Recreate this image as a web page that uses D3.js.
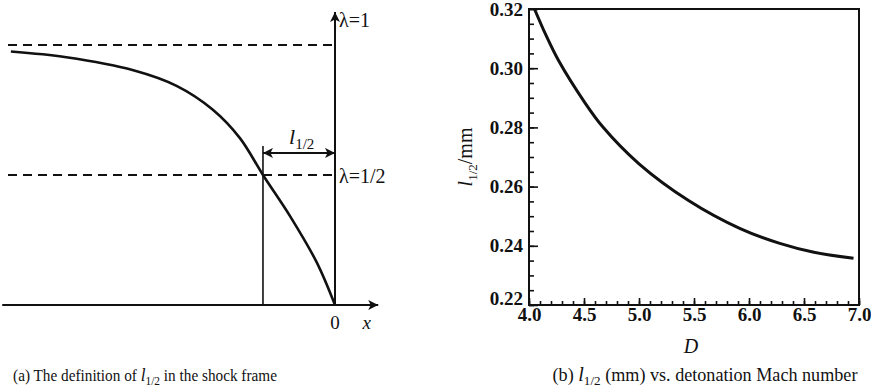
<!DOCTYPE html>
<html>
<head>
<meta charset="utf-8">
<script src="https://cdn.jsdelivr.net/npm/d3@7"></script>
<style>
body { margin: 0; background: #fff; }
svg text { font-family: "Liberation Serif", "Times New Roman", serif; fill: #111; }
</style>
</head>
<body>
<script>
// panel (a): reaction progress profile in the shock frame
var profileX = [-4.5, -3.73, -2.8, -2.2, -1.7, -1.32, -1.0, -0.62, -0.25, 0];
var profileLambda = [0.975, 0.953, 0.903, 0.843, 0.752, 0.642, 0.5, 0.34, 0.162, 0];
var halfX = -1.0; // position where lambda = 1/2

// panel (b): l_1/2 vs detonation Mach number
var machD = [4.05, 4.15, 4.27, 4.5, 4.67, 5.0, 5.45, 5.92, 6.28, 6.59, 6.95];
var halfLength = [0.3200, 0.3115, 0.3025, 0.2888, 0.2802, 0.2677, 0.2553, 0.2458, 0.2408, 0.2378, 0.2358];
var xTicks = [4.0, 4.5, 5.0, 5.5, 6.0, 6.5, 7.0];
var yTicks = [0.22, 0.24, 0.26, 0.28, 0.30, 0.32];

var width = 871, height = 388;

var svg = d3.select("body").append("svg")
    .attr("width", width)
    .attr("height", height);

var defs = svg.append("defs");
defs.append("marker")
    .attr("id", "head")
    .attr("viewBox", "0 0 10 10")
    .attr("refX", 10).attr("refY", 5)
    .attr("markerWidth", 11).attr("markerHeight", 10)
    .attr("markerUnits", "userSpaceOnUse")
    .attr("orient", "auto-start-reverse")
    .append("path")
    .attr("d", "M0,0 L10,5 L0,10 L2.5,5 Z")
    .style("fill", "#111");

// squeeze a caption to the width it has in the scan
function fitWidth(sel, cx, w){
    var bb = sel.node().getBBox();
    var k = w / bb.width;
    sel.attr("transform", "translate(" + cx + ",0) scale(" + k + ",1)");
}

// ---------- panel (a) ----------
var xL = d3.scaleLinear().domain([-4.54, 0]).range([8, 335]);
var yL = d3.scaleLinear().domain([0, 1]).range([305, 45]);

var left = svg.append("g").attr("class", "panel-a");

// dashed reference lines
[1, 0.5].forEach(function(v){
    left.append("line")
        .attr("x1", xL(-4.54)).attr("x2", xL(0))
        .attr("y1", yL(v)).attr("y2", yL(v))
        .style("stroke", "#111")
        .style("stroke-width", 2)
        .style("stroke-dasharray", "9,6");
});

// x axis with arrow
left.append("line")
    .attr("x1", xL(-4.62)).attr("x2", xL(0.6))
    .attr("y1", yL(0)).attr("y2", yL(0))
    .style("stroke", "#111").style("stroke-width", 2)
    .attr("marker-end", "url(#head)");

// lambda axis with arrow
left.append("line")
    .attr("x1", xL(0)).attr("x2", xL(0))
    .attr("y1", yL(0)).attr("y2", yL(1.127))
    .style("stroke", "#111").style("stroke-width", 2)
    .attr("marker-end", "url(#head)");

// vertical marker at half point
left.append("line")
    .attr("x1", xL(halfX)).attr("x2", xL(halfX))
    .attr("y1", yL(0)).attr("y2", yL(0.612))
    .style("stroke", "#111").style("stroke-width", 1.6);

// double arrow for l_1/2
left.append("line")
    .attr("x1", xL(halfX)).attr("x2", xL(0))
    .attr("y1", yL(0.585)).attr("y2", yL(0.585))
    .style("stroke", "#111").style("stroke-width", 2)
    .attr("marker-start", "url(#head)")
    .attr("marker-end", "url(#head)");

var lineL = d3.line()
    .x(function(d, i){ return xL(profileX[i]); })
    .y(function(d){ return yL(d); })
    .curve(d3.curveCatmullRom.alpha(0.5));

left.append("path")
    .datum(profileLambda)
    .attr("d", lineL)
    .style("fill", "none")
    .style("stroke", "#111")
    .style("stroke-width", 2.6);

// labels
var l12 = left.append("text")
    .attr("x", 289).attr("y", yL(0.585) - 9)
    .style("font-size", "22px");
l12.append("tspan").style("font-style", "italic").text("l");
l12.append("tspan").attr("dy", 5).style("font-size", "15px").text("1/2");

left.append("text").attr("x", xL(0) + 4).attr("y", 27)
    .style("font-size", "20px").text("λ=1");
left.append("text").attr("x", xL(0) + 4).attr("y", yL(0.5) + 8)
    .style("font-size", "20px").text("λ=1/2");
left.append("text").attr("x", xL(0)).attr("y", 329)
    .attr("text-anchor", "middle").style("font-size", "19px").text("0");
left.append("text").attr("x", xL(0.44)).attr("y", 329)
    .attr("text-anchor", "middle").style("font-size", "19px")
    .style("font-style", "italic").text("x");

var capA = left.append("text")
    .attr("y", 381)
    .attr("text-anchor", "middle")
    .style("font-size", "16px");
capA.append("tspan").text("(a) The definition of ");
capA.append("tspan").style("font-style", "italic").style("font-size", "18px").text("l");
capA.append("tspan").attr("dy", 4).style("font-size", "12px").text("1/2");
capA.append("tspan").attr("dy", -4).text(" in the shock frame");
fitWidth(capA, 145, 264);

// ---------- panel (b) ----------
var xR = d3.scaleLinear().domain([4, 7]).range([529, 859]);
var yR = d3.scaleLinear().domain([0.22, 0.32]).range([305, 9]);

var right = svg.append("g").attr("class", "panel-b");

var xMinor = d3.range(40, 71).map(function(v){ return v / 10; });
var yMinor = d3.range(220, 321, 5).map(function(v){ return v / 1000; });

right.append("g")
    .attr("transform", "translate(0," + yR(0.22) + ")")
    .call(d3.axisBottom(xR).tickValues(xMinor).tickSize(-4).tickFormat(""))
    .call(function(g){ g.select(".domain").remove(); });

right.append("g")
    .attr("transform", "translate(0," + yR(0.22) + ")")
    .call(d3.axisBottom(xR).tickValues(xTicks).tickSize(-7).tickPadding(2)
        .tickFormat(d3.format(".1f")))
    .call(function(g){
        g.select(".domain").remove();
        g.selectAll("text").style("font-size", "19px").style("font-weight", "bold")
            .style("font-family", "Liberation Serif").style("fill", "#111");
    });

right.append("g")
    .attr("transform", "translate(" + xR(4) + ",0)")
    .call(d3.axisLeft(yR).tickValues(yMinor).tickSize(-5).tickFormat(""))
    .call(function(g){ g.select(".domain").remove(); });

right.append("g")
    .attr("transform", "translate(" + xR(4) + ",0)")
    .call(d3.axisLeft(yR).tickValues(yTicks).tickSize(-9).tickPadding(6)
        .tickFormat(d3.format(".2f")))
    .call(function(g){
        g.select(".domain").remove();
        g.selectAll("text").style("font-size", "19px").style("font-weight", "bold")
            .style("font-family", "Liberation Serif").style("fill", "#111");
        // lowest label sits up against the corner in the scan
        g.selectAll(".tick").filter(function(d){ return d === 0.22; })
            .select("text").attr("dy", "-0.05em");
    });

right.selectAll(".tick line").style("stroke", "#111").style("stroke-width", 1.6);

right.append("rect")
    .attr("x", xR(4)).attr("y", yR(0.32))
    .attr("width", xR(7) - xR(4))
    .attr("height", yR(0.22) - yR(0.32))
    .style("fill", "none")
    .style("stroke", "#111")
    .style("stroke-width", 2);

var lineR = d3.line()
    .x(function(d, i){ return xR(machD[i]); })
    .y(function(d){ return yR(d); })
    .curve(d3.curveCatmullRom.alpha(0.5));

right.append("path")
    .datum(halfLength)
    .attr("d", lineR)
    .style("fill", "none")
    .style("stroke", "#111")
    .style("stroke-width", 3);

right.append("text")
    .attr("x", 691).attr("y", 353)
    .attr("text-anchor", "middle")
    .style("font-size", "20px").style("font-style", "italic")
    .text("D");

var yLab = right.append("text")
    .attr("transform", "translate(472," + yR(0.27) + ") rotate(-90)")
    .attr("text-anchor", "middle")
    .style("font-size", "20px");
yLab.append("tspan").style("font-style", "italic").text("l");
yLab.append("tspan").attr("dy", 5).style("font-size", "13px").text("1/2");
yLab.append("tspan").attr("dy", -5).text("/mm");

var capB = right.append("text")
    .attr("y", 381)
    .attr("text-anchor", "middle")
    .style("font-size", "18px");
capB.append("tspan").text("(b) ");
capB.append("tspan").style("font-style", "italic").style("font-size", "20px").text("l");
capB.append("tspan").attr("dy", 4).style("font-size", "13px").text("1/2");
capB.append("tspan").attr("dy", -4).text(" (mm) vs. detonation Mach number");
fitWidth(capB, 705, 305);
</script>
</body>
</html>
